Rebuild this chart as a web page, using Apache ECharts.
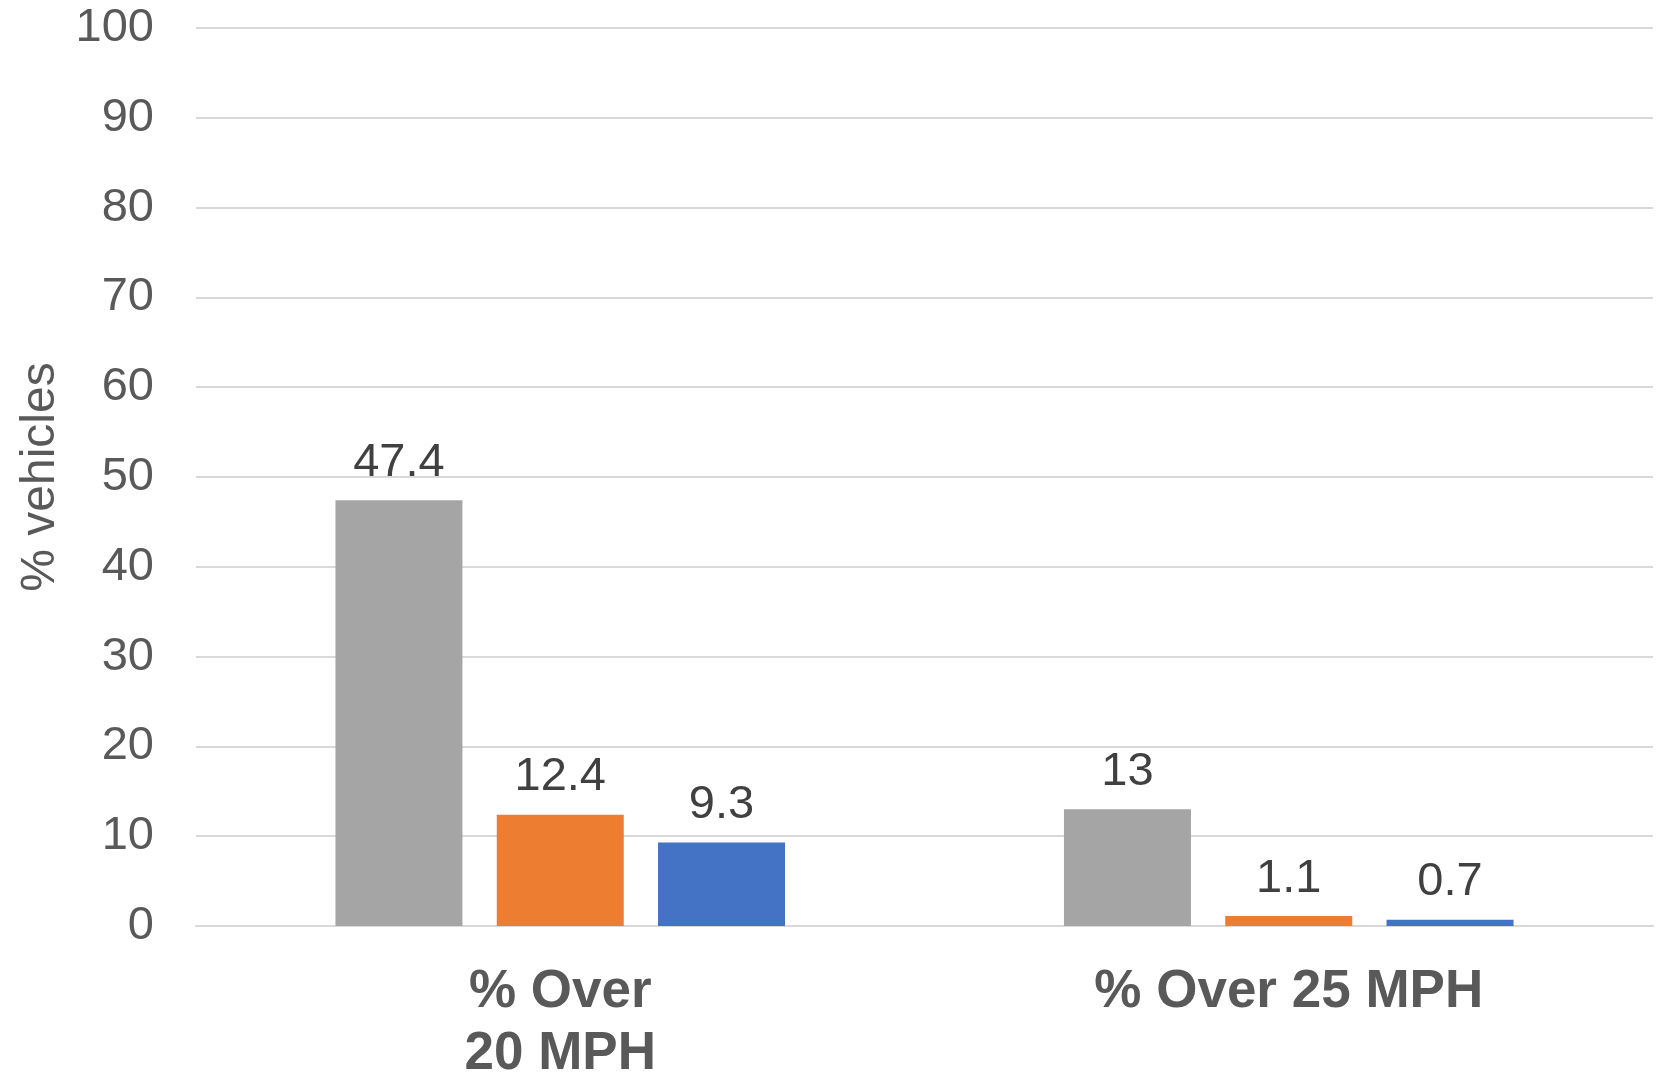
<!DOCTYPE html>
<html>
<head>
<meta charset="utf-8">
<title>% vehicles over speed</title>
<script src="https://cdn.jsdelivr.net/npm/echarts@6/dist/echarts.min.js"></script>
<style>
  html, body { margin: 0; padding: 0; background: #fff; }
  #chart { width: 1663px; height: 1072px; }
</style>
</head>
<body>
<div id="chart"></div>
<script>
// categories and values
const categories = ["% Over\n20 MPH", "% Over 25 MPH"];
const greyValues = [47.4, 13];
const orangeValues = [12.4, 1.1];
const blueValues = [9.3, 0.7];
const yTicks = { min: 0, max: 100, interval: 10 };

const font = "'Liberation Sans', Arial, sans-serif";

function barSeries(name, values, color) {
  return {
    name: name,
    type: "bar",
    data: values,
    barWidth: 127,
    barGap: "27%",
    itemStyle: { color: color },
    label: {
      show: true,
      position: "top",
      distance: 14,
      color: "#404040",
      fontSize: 47,
      fontFamily: font,
    },
  };
}

const chart = echarts.init(document.getElementById("chart"));
chart.setOption({
  animation: false,
  // keep the plot where it is, labels are allowed to reach the edge
  grid: { left: 196, right: 10, top: 28, bottom: 146, outerBoundsMode: "none" },
  xAxis: {
    type: "category",
    data: categories,
    axisTick: { show: false },
    axisLine: { show: true, lineStyle: { color: "#d9d9d9", width: 2 } },
    axisLabel: {
      color: "#595959",
      fontSize: 53,
      fontWeight: "bold",
      fontFamily: font,
      lineHeight: 62,
      margin: 35,
      interval: 0,
    },
  },
  yAxis: {
    type: "value",
    min: yTicks.min,
    max: yTicks.max,
    interval: yTicks.interval,
    name: "% vehicles",
    nameLocation: "middle",
    nameGap: 129,
    nameTextStyle: { color: "#595959", fontSize: 48, fontFamily: font },
    axisLine: { show: false },
    axisTick: { show: false },
    axisLabel: { color: "#595959", fontSize: 47, fontFamily: font, margin: 42 },
    splitLine: { lineStyle: { color: "#d9d9d9", width: 2 } },
  },
  series: [
    barSeries("Series 1", greyValues, "#a5a5a5"),
    barSeries("Series 2", orangeValues, "#ed7d31"),
    barSeries("Series 3", blueValues, "#4472c4"),
  ],
});
</script>
</body>
</html>
